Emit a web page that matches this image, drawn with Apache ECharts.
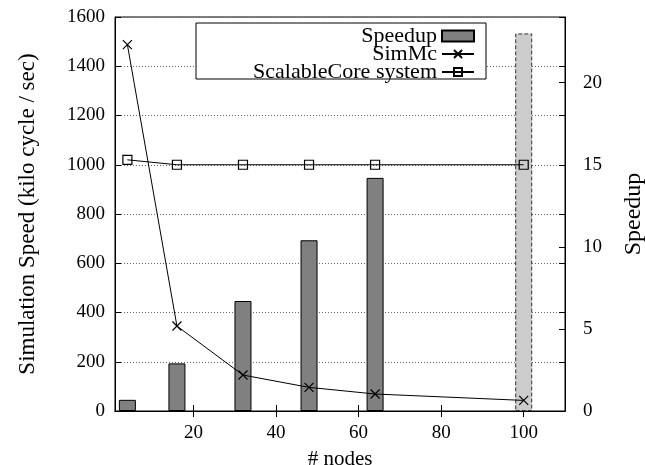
<!DOCTYPE html>
<html lang="en">
<head>
    <meta charset="UTF-8">
    <title>SimMc speed</title>
    <script type="text/javascript" src="https://cdn.jsdelivr.net/npm/echarts@6/dist/echarts.min.js"></script>
    <style>
        body{
            padding: 0px;
            margin: 0px;
            background-color: #ffffff;
        }
        #chart{
            width: 645px;
            height: 465px;
        }
    </style>
</head>
<body>
    <div id="chart"></div>
    <script>
    // values
    var nodes = [4, 16, 32, 48, 64, 100];
    var simMcSpeed = [1488, 345, 146, 96, 69, 43];
    var scalableCoreSpeed = [1020, 1000, 1000, 1000, 1000, 1000];
    var speedup = [0.68, 2.9, 6.7, 10.4, 14.2, 23.0];
    var xTicks = [20, 40, 60, 80, 100];
    var lastBarIndex = 5;   // the light, dashed bar

    var font = "'Liberation Serif', 'DejaVu Serif', serif";
    var chart = echarts.init(document.getElementById('chart'), null, {renderer: 'canvas'});

    function pairs(ys) {
        return nodes.map(function (x, i) { return [x, ys[i]]; });
    }

    var barData = nodes.map(function (x, i) {
        var item = {value: [x, speedup[i]]};
        if (i === lastBarIndex) {
            item.itemStyle = {color: '#cccccc', borderColor: '#333', borderType: 'dashed', borderWidth: 1};
        }
        return item;
    });

    var legendBase = {
        orient: 'vertical',
        align: 'right',
        right: 170,
        padding: 0,
        itemWidth: 32,
        itemGap: 0,
        textStyle: {fontFamily: font, fontSize: 22, color: '#000'}
    };

    var plain = function (v) { return String(v); };

    var option = {
        animation: false,
        backgroundColor: '#fff',
        grid: {left: 115, right: 80, top: 17, bottom: 54, show: true, borderColor: '#000', borderWidth: 1,
               containLabel: false, outerBoundsMode: 'none'},
        graphic: [{
            type: 'rect', z: 3,
            shape: {x: 196, y: 23, width: 290, height: 56},
            style: {fill: '#fff', stroke: '#000', lineWidth: 1}
        }],
        legend: [
            Object.assign({}, legendBase, {top: 25, itemHeight: 11, icon: 'rect', data: ['Speedup']}),
            Object.assign({}, legendBase, {top: 43, itemHeight: 10, data: ['SimMc']}),
            Object.assign({}, legendBase, {top: 61, itemHeight: 10, data: ['ScalableCore system']})
        ],
        xAxis: [{
            type: 'value', min: 1, max: 110,
            name: '# nodes', nameLocation: 'middle', nameGap: 38,
            nameTextStyle: {fontFamily: font, fontSize: 21, color: '#000'},
            axisLine: {lineStyle: {color: '#000'}},
            axisTick: {inside: true, length: 6, customValues: xTicks, lineStyle: {color: '#000'}},
            axisLabel: {customValues: xTicks, fontFamily: font, fontSize: 19, color: '#000', margin: 13},
            splitLine: {show: false}
        }, {
            type: 'value', min: 1, max: 110, position: 'top',
            axisLine: {lineStyle: {color: '#000'}},
            axisTick: {inside: true, length: 6, customValues: xTicks, lineStyle: {color: '#000'}},
            axisLabel: {show: false},
            splitLine: {show: false}
        }],
        yAxis: [{
            type: 'value', min: 0, max: 1600, interval: 200,
            name: 'Simulation Speed (kilo cycle / sec)', nameLocation: 'middle', nameGap: 76,
            nameTextStyle: {fontFamily: font, fontSize: 23, color: '#000'},
            axisLine: {show: true, lineStyle: {color: '#000'}},
            axisTick: {show: true, inside: true, length: 6, lineStyle: {color: '#000'}},
            axisLabel: {fontFamily: font, fontSize: 19, color: '#000', margin: 10, formatter: plain},
            splitLine: {show: true, lineStyle: {color: '#666', type: [1, 2], width: 1}}
        }, {
            type: 'value', min: 0, max: 24, interval: 5, position: 'right',
            name: 'Speedup', nameLocation: 'middle', nameGap: 57, nameRotate: 90,
            nameTextStyle: {fontFamily: font, fontSize: 24, color: '#000'},
            axisLine: {show: true, lineStyle: {color: '#000'}},
            axisTick: {show: true, inside: true, length: 6, lineStyle: {color: '#000'}},
            axisLabel: {fontFamily: font, fontSize: 19, color: '#000', margin: 18, showMaxLabel: false, formatter: plain},
            splitLine: {show: false}
        }, {
            type: 'value', min: 0, max: 1600, interval: 200, position: 'right', offset: 0,
            axisLine: {show: false},
            axisTick: {show: true, inside: true, length: 6, lineStyle: {color: '#000'}},
            axisLabel: {show: false},
            splitLine: {show: false}
        }],
        series: [{
            name: 'Speedup',
            type: 'bar',
            xAxisIndex: 0,
            yAxisIndex: 1,
            barWidth: 17,
            itemStyle: {color: '#808080', borderColor: '#000', borderWidth: 1},
            data: barData,
            z: 2
        }, {
            name: 'SimMc',
            type: 'line',
            xAxisIndex: 0,
            yAxisIndex: 0,
            symbol: 'path://M0,0L10,10M10,0L0,10',
            symbolSize: 9,
            itemStyle: {color: 'none', borderColor: '#000', borderWidth: 1.2},
            lineStyle: {color: '#000', width: 1},
            data: pairs(simMcSpeed),
            z: 5
        }, {
            name: 'ScalableCore system',
            type: 'line',
            xAxisIndex: 0,
            yAxisIndex: 0,
            symbol: 'rect',
            symbolSize: 9,
            itemStyle: {color: 'none', borderColor: '#000', borderWidth: 1.2},
            lineStyle: {color: '#000', width: 1},
            data: pairs(scalableCoreSpeed),
            z: 5
        }]
    };
    chart.setOption(option);
    </script>
</body>
</html>
